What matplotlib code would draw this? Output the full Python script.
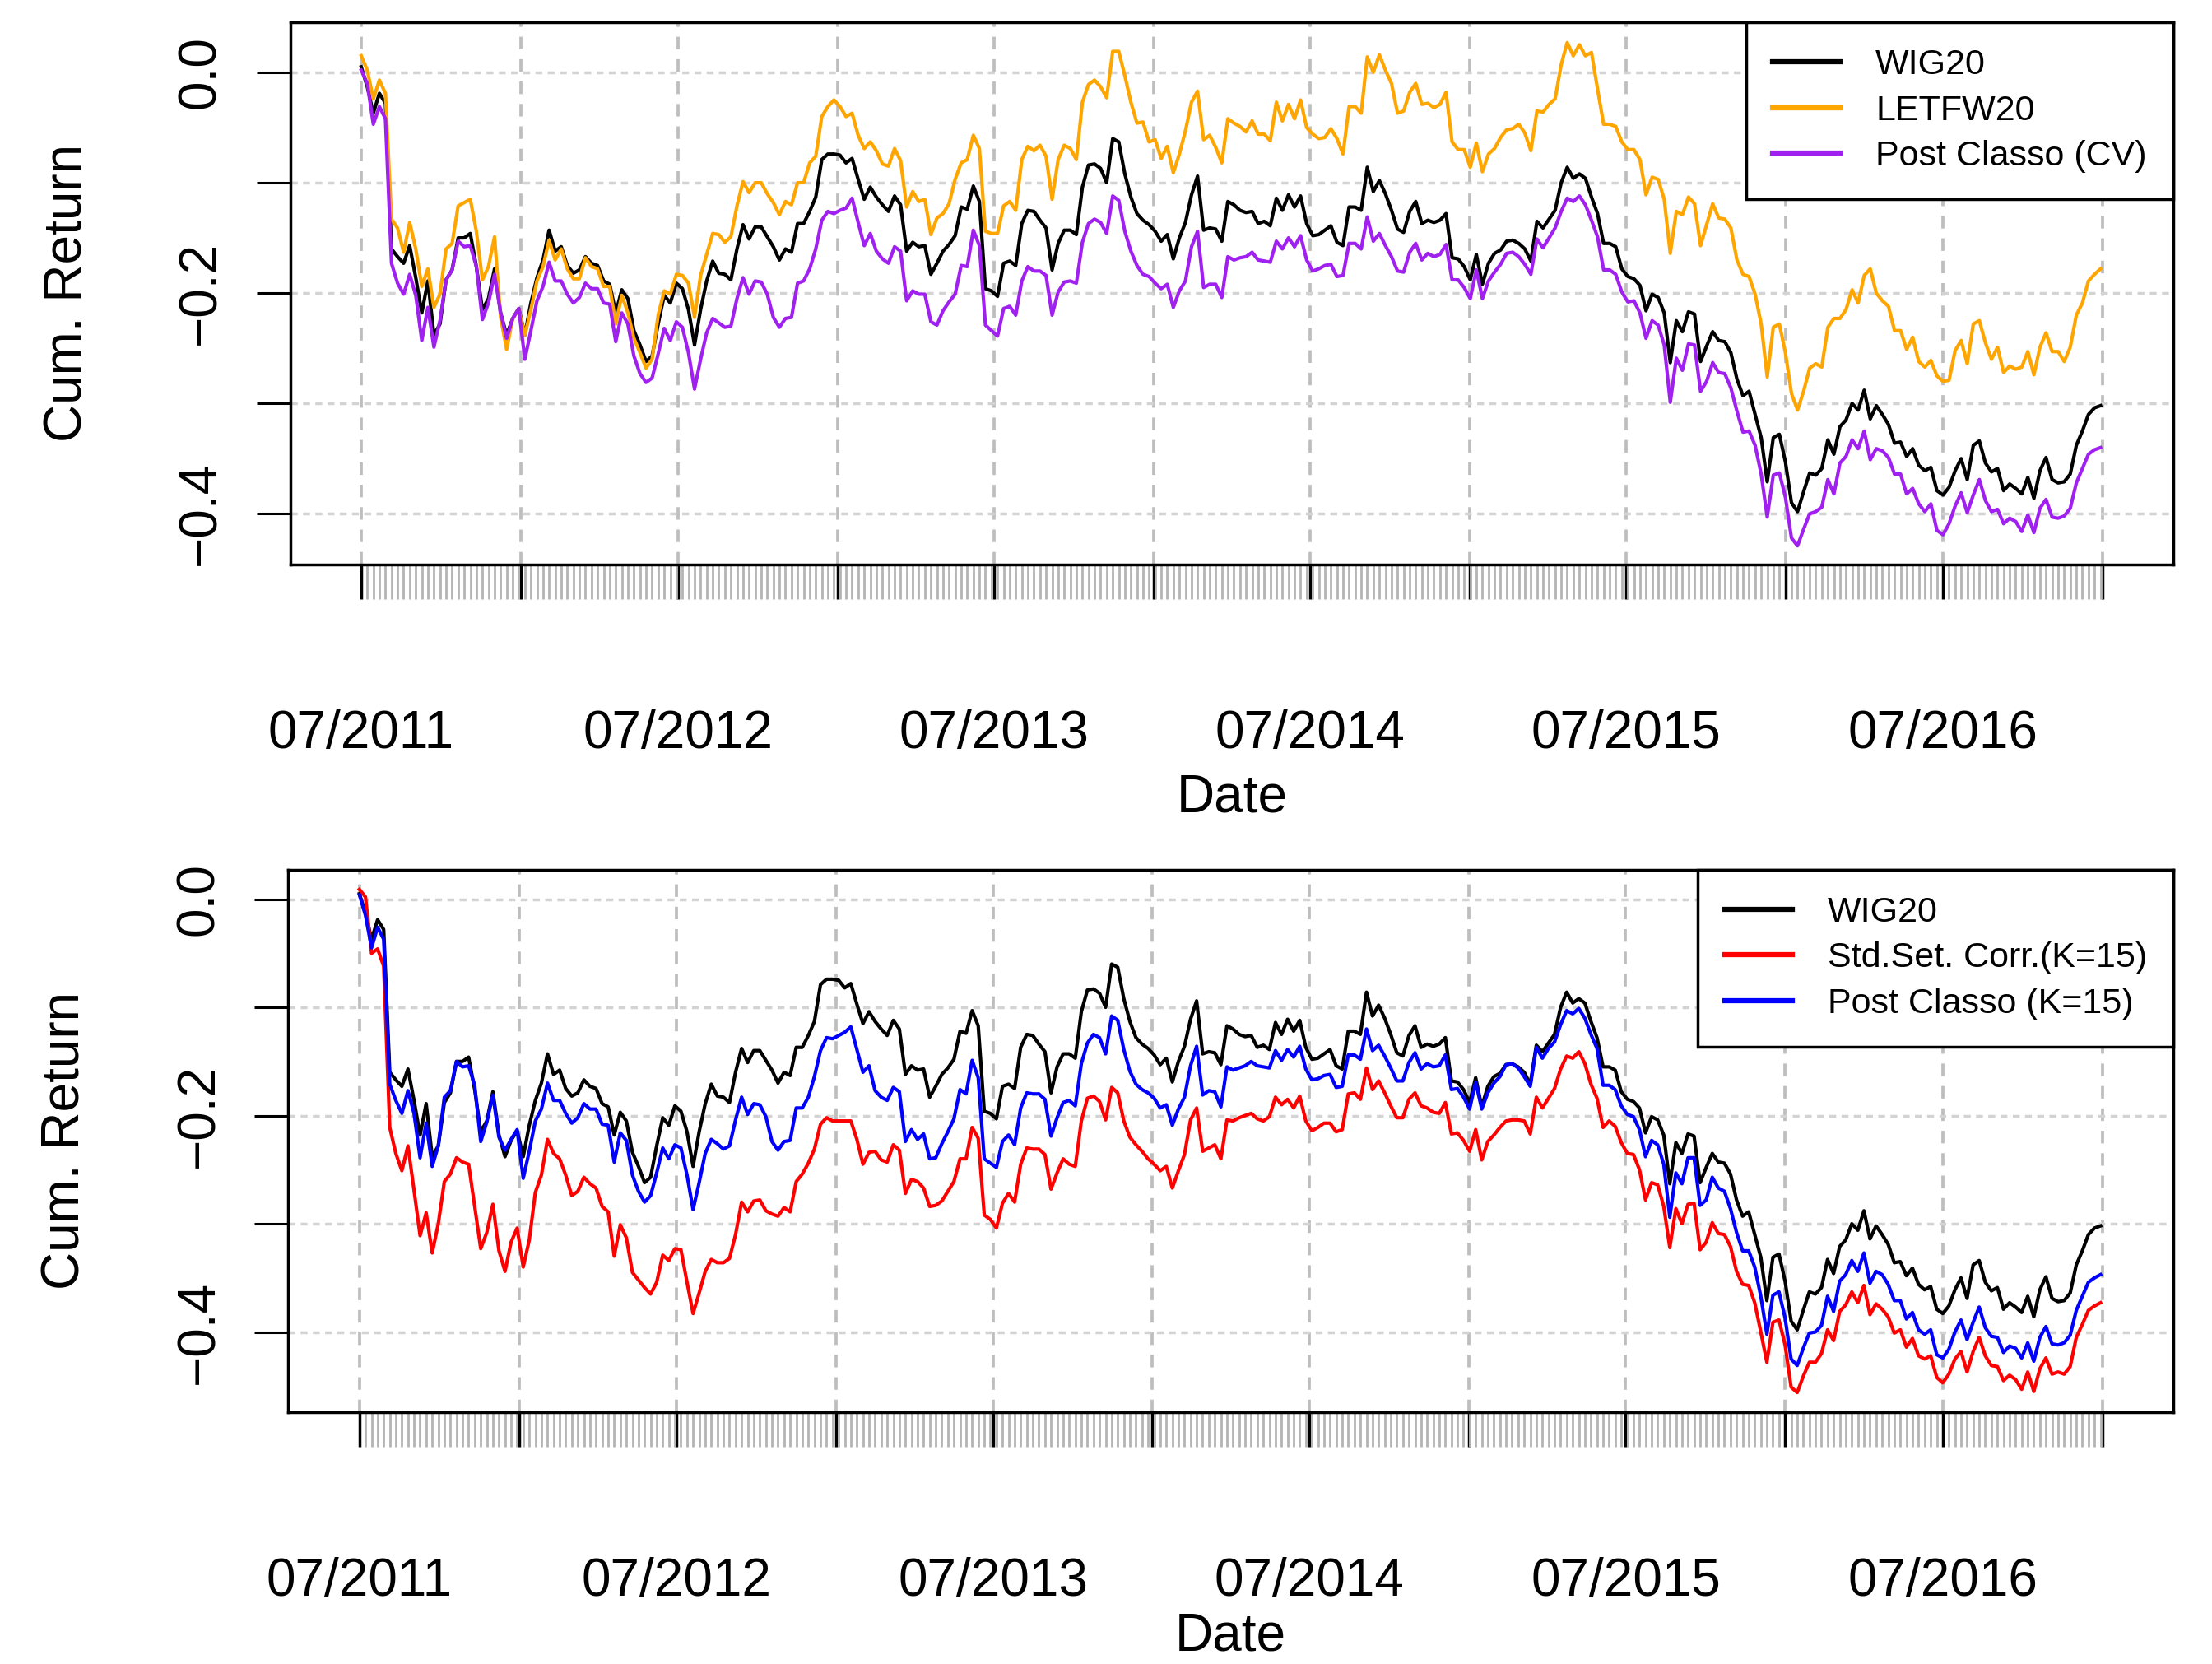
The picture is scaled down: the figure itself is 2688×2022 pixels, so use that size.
import numpy as np
import pandas as pd
import matplotlib
matplotlib.use("Agg")
import matplotlib.pyplot as plt
from matplotlib.lines import Line2D

plt.rcParams['font.family'] = ['Liberation Sans', 'DejaVu Sans']
plt.rcParams['lines.scale_dashes'] = False

# weekly cumulative returns, first week = 07/2011
start = "2011-07-01"

wig20 = [
    0.005, -0.013, -0.037, -0.019, -0.028, -0.160, -0.167, -0.173, -0.157, -0.186,
    -0.218, -0.189, -0.238, -0.228, -0.188, -0.179, -0.150, -0.150, -0.146, -0.176,
    -0.215, -0.205, -0.178, -0.218, -0.238, -0.223, -0.214, -0.238, -0.209, -0.186,
    -0.170, -0.143, -0.162, -0.158, -0.175, -0.182, -0.179, -0.167, -0.173, -0.175,
    -0.189, -0.192, -0.218, -0.197, -0.205, -0.234, -0.247, -0.262, -0.257, -0.228,
    -0.202, -0.209, -0.191, -0.196, -0.215, -0.247, -0.215, -0.189, -0.171, -0.182,
    -0.183, -0.188, -0.160, -0.138, -0.151, -0.140, -0.140, -0.149, -0.158, -0.170,
    -0.160, -0.163, -0.137, -0.137, -0.126, -0.113, -0.079,
    -0.074, -0.074, -0.075, -0.082, -0.078, -0.097, -0.115, -0.104, -0.113, -0.120,
    -0.126, -0.112, -0.120, -0.162, -0.154, -0.158, -0.157, -0.183, -0.173, -0.162,
    -0.156, -0.148, -0.122, -0.124, -0.103, -0.117, -0.196, -0.198, -0.203, -0.173,
    -0.171, -0.175, -0.137, -0.125, -0.126, -0.134, -0.141, -0.179, -0.155, -0.143,
    -0.143, -0.147, -0.104, -0.084, -0.083, -0.087, -0.100, -0.060, -0.063, -0.092,
    -0.113, -0.128, -0.134, -0.138, -0.144, -0.153, -0.147, -0.169, -0.150, -0.136,
    -0.111, -0.094, -0.143, -0.141, -0.142, -0.153, -0.117, -0.120, -0.125, -0.127,
    -0.126, -0.137, -0.135, -0.139, -0.114, -0.125, -0.111, -0.122,
    -0.112, -0.137, -0.148, -0.147, -0.143, -0.139, -0.154, -0.157, -0.122, -0.122,
    -0.125, -0.086, -0.108, -0.098, -0.110, -0.125, -0.142, -0.145, -0.126, -0.117,
    -0.137, -0.134, -0.136, -0.134, -0.128, -0.168, -0.169, -0.176, -0.188, -0.165,
    -0.192, -0.173, -0.164, -0.161, -0.153, -0.152, -0.155, -0.160, -0.171, -0.135,
    -0.141, -0.133, -0.125, -0.100, -0.086, -0.096, -0.092, -0.096, -0.113, -0.128,
    -0.155, -0.155, -0.158, -0.178, -0.185, -0.187, -0.193, -0.216, -0.201, -0.204,
    -0.218, -0.263, -0.225, -0.235, -0.217, -0.219, -0.262, -0.248, -0.235, -0.243,
    -0.244, -0.254, -0.278, -0.293, -0.289, -0.310, -0.331, -0.371, -0.331,
    -0.328, -0.353, -0.390, -0.398, -0.380, -0.363, -0.365, -0.359, -0.333, -0.346,
    -0.321, -0.315, -0.300, -0.306, -0.288, -0.314, -0.302, -0.310, -0.319, -0.336,
    -0.335, -0.348, -0.341, -0.356, -0.361, -0.358, -0.379, -0.383, -0.376, -0.361,
    -0.350, -0.369, -0.338, -0.334, -0.354, -0.362, -0.359, -0.379, -0.373, -0.377,
    -0.382, -0.367, -0.386, -0.361, -0.349, -0.369, -0.372, -0.371, -0.364, -0.338,
    -0.325, -0.310, -0.304, -0.302,
]

letfw20 = [
    0.015, 0.002, -0.024, -0.007, -0.019, -0.133, -0.141, -0.163, -0.136, -0.160,
    -0.194, -0.178, -0.213, -0.201, -0.160, -0.155, -0.121, -0.118, -0.115, -0.144,
    -0.188, -0.176, -0.149, -0.222, -0.251, -0.223, -0.215, -0.238, -0.215, -0.189,
    -0.176, -0.152, -0.170, -0.160, -0.178, -0.187, -0.187, -0.168, -0.176, -0.178,
    -0.194, -0.194, -0.228, -0.202, -0.218, -0.241, -0.254, -0.268, -0.260, -0.220,
    -0.198, -0.201, -0.183, -0.184, -0.191, -0.222, -0.184, -0.165, -0.146, -0.147,
    -0.154, -0.149, -0.121, -0.099, -0.109, -0.100, -0.100, -0.110, -0.118, -0.129,
    -0.117, -0.120, -0.100, -0.100, -0.082, -0.076, -0.040,
    -0.031, -0.025, -0.031, -0.040, -0.037, -0.057, -0.069, -0.063, -0.071, -0.083,
    -0.085, -0.069, -0.080, -0.122, -0.108, -0.117, -0.115, -0.147, -0.132, -0.128,
    -0.119, -0.097, -0.082, -0.079, -0.057, -0.069, -0.144, -0.146, -0.146, -0.121,
    -0.117, -0.125, -0.079, -0.067, -0.071, -0.066, -0.076, -0.115, -0.079, -0.066,
    -0.069, -0.079, -0.027, -0.011, -0.007, -0.013, -0.023, 0.019, 0.019, -0.003,
    -0.027, -0.046, -0.045, -0.063, -0.061, -0.078, -0.067, -0.091, -0.074, -0.053,
    -0.027, -0.017, -0.061, -0.057, -0.068, -0.082, -0.042, -0.046, -0.049, -0.054,
    -0.044, -0.056, -0.056, -0.062, -0.027, -0.044, -0.029, -0.042,
    -0.025, -0.050, -0.056, -0.060, -0.059, -0.051, -0.060, -0.074, -0.031, -0.031,
    -0.037, 0.014, 0.000, 0.016, 0.002, -0.010, -0.037, -0.035, -0.018, -0.010,
    -0.029, -0.028, -0.032, -0.029, -0.018, -0.063, -0.070, -0.070, -0.086, -0.064,
    -0.090, -0.074, -0.069, -0.059, -0.052, -0.051, -0.047, -0.055, -0.071, -0.035,
    -0.036, -0.029, -0.024, 0.007, 0.027, 0.015, 0.025, 0.015, 0.018, -0.015,
    -0.047, -0.047, -0.049, -0.063, -0.070, -0.070, -0.079, -0.111, -0.095, -0.097,
    -0.115, -0.164, -0.126, -0.129, -0.113, -0.119, -0.157, -0.138, -0.119, -0.132,
    -0.133, -0.141, -0.170, -0.183, -0.185, -0.201, -0.228, -0.276, -0.231,
    -0.228, -0.254, -0.291, -0.306, -0.289, -0.268, -0.264, -0.267, -0.231, -0.223,
    -0.223, -0.215, -0.197, -0.209, -0.184, -0.178, -0.200, -0.207, -0.212, -0.234,
    -0.234, -0.251, -0.240, -0.262, -0.267, -0.261, -0.275, -0.280, -0.279, -0.252,
    -0.243, -0.264, -0.228, -0.225, -0.245, -0.260, -0.249, -0.272, -0.266, -0.269,
    -0.267, -0.253, -0.274, -0.249, -0.236, -0.253, -0.253, -0.262, -0.249, -0.220,
    -0.209, -0.189, -0.183, -0.178,
]

post_classo_cv = [
    0.002, -0.010, -0.047, -0.031, -0.042, -0.173, -0.191, -0.201, -0.183, -0.202,
    -0.243, -0.213, -0.249, -0.225, -0.188, -0.179, -0.153, -0.158, -0.157, -0.176,
    -0.224, -0.209, -0.183, -0.218, -0.241, -0.223, -0.214, -0.260, -0.234, -0.207,
    -0.194, -0.172, -0.189, -0.189, -0.201, -0.209, -0.204, -0.191, -0.196, -0.196,
    -0.209, -0.210, -0.244, -0.218, -0.228, -0.257, -0.273, -0.281, -0.277, -0.255,
    -0.232, -0.243, -0.226, -0.231, -0.254, -0.287, -0.260, -0.236, -0.223, -0.227,
    -0.231, -0.230, -0.205, -0.186, -0.201, -0.189, -0.190, -0.201, -0.222, -0.231,
    -0.223, -0.222, -0.191, -0.189, -0.178, -0.160, -0.134,
    -0.126, -0.128, -0.125, -0.123, -0.114, -0.136, -0.157, -0.146, -0.162, -0.169,
    -0.173, -0.158, -0.162, -0.207, -0.198, -0.201, -0.201, -0.226, -0.229, -0.216,
    -0.208, -0.201, -0.175, -0.176, -0.143, -0.157, -0.229, -0.234, -0.239, -0.214,
    -0.212, -0.220, -0.189, -0.176, -0.180, -0.180, -0.184, -0.220, -0.199, -0.190,
    -0.189, -0.191, -0.154, -0.137, -0.133, -0.136, -0.146, -0.112, -0.116, -0.144,
    -0.162, -0.175, -0.183, -0.185, -0.191, -0.196, -0.192, -0.213, -0.198, -0.189,
    -0.158, -0.144, -0.195, -0.192, -0.192, -0.204, -0.167, -0.170, -0.168, -0.167,
    -0.163, -0.170, -0.171, -0.172, -0.153, -0.160, -0.150, -0.158,
    -0.148, -0.170, -0.180, -0.178, -0.175, -0.174, -0.185, -0.184, -0.155, -0.155,
    -0.160, -0.131, -0.153, -0.146, -0.157, -0.167, -0.180, -0.181, -0.163, -0.155,
    -0.170, -0.164, -0.167, -0.165, -0.156, -0.188, -0.188, -0.195, -0.205, -0.179,
    -0.205, -0.189, -0.181, -0.174, -0.164, -0.163, -0.167, -0.174, -0.183, -0.151,
    -0.159, -0.150, -0.141, -0.126, -0.114, -0.117, -0.112, -0.120, -0.134, -0.149,
    -0.179, -0.179, -0.183, -0.199, -0.208, -0.207, -0.218, -0.241, -0.225, -0.229,
    -0.247, -0.299, -0.259, -0.270, -0.246, -0.247, -0.289, -0.280, -0.263, -0.272,
    -0.273, -0.286, -0.307, -0.326, -0.325, -0.338, -0.364, -0.403, -0.365,
    -0.363, -0.385, -0.422, -0.429, -0.414, -0.400, -0.398, -0.394, -0.369, -0.382,
    -0.354, -0.348, -0.333, -0.341, -0.325, -0.351, -0.341, -0.343, -0.349, -0.364,
    -0.364, -0.382, -0.377, -0.391, -0.398, -0.391, -0.415, -0.419, -0.409, -0.393,
    -0.381, -0.399, -0.383, -0.369, -0.388, -0.398, -0.396, -0.409, -0.404, -0.407,
    -0.416, -0.401, -0.417, -0.395, -0.387, -0.403, -0.404, -0.402, -0.395, -0.372,
    -0.359, -0.346, -0.342, -0.340,
]

std_set_corr = [
    0.009, 0.002, -0.050, -0.046, -0.062, -0.211, -0.235, -0.251, -0.228, -0.269,
    -0.311, -0.290, -0.327, -0.300, -0.261, -0.254, -0.239, -0.243, -0.245, -0.284,
    -0.323, -0.308, -0.282, -0.325, -0.344, -0.317, -0.304, -0.340, -0.315, -0.271,
    -0.255, -0.222, -0.235, -0.240, -0.255, -0.274, -0.270, -0.257, -0.263, -0.267,
    -0.284, -0.289, -0.330, -0.301, -0.313, -0.345, -0.352, -0.359, -0.365, -0.354,
    -0.329, -0.334, -0.323, -0.324, -0.354, -0.383, -0.364, -0.344, -0.333, -0.336,
    -0.336, -0.332, -0.310, -0.280, -0.289, -0.279, -0.278, -0.288, -0.291, -0.293,
    -0.285, -0.289, -0.261, -0.254, -0.244, -0.231, -0.208,
    -0.202, -0.205, -0.205, -0.205, -0.205, -0.222, -0.245, -0.234, -0.233, -0.241,
    -0.243, -0.227, -0.232, -0.272, -0.259, -0.261, -0.267, -0.284, -0.283, -0.279,
    -0.270, -0.261, -0.240, -0.240, -0.211, -0.221, -0.292, -0.296, -0.304, -0.281,
    -0.272, -0.280, -0.245, -0.230, -0.231, -0.231, -0.236, -0.268, -0.253, -0.240,
    -0.245, -0.247, -0.205, -0.184, -0.182, -0.187, -0.204, -0.174, -0.179, -0.205,
    -0.220, -0.227, -0.233, -0.240, -0.245, -0.251, -0.247, -0.267, -0.251, -0.236,
    -0.204, -0.193, -0.233, -0.230, -0.227, -0.240, -0.204, -0.205, -0.202, -0.200,
    -0.198, -0.203, -0.205, -0.201, -0.183, -0.190, -0.185, -0.193,
    -0.182, -0.205, -0.214, -0.211, -0.207, -0.207, -0.215, -0.213, -0.180, -0.179,
    -0.185, -0.156, -0.176, -0.168, -0.179, -0.191, -0.202, -0.202, -0.185, -0.179,
    -0.191, -0.193, -0.197, -0.198, -0.188, -0.217, -0.216, -0.223, -0.233, -0.213,
    -0.241, -0.224, -0.218, -0.211, -0.205, -0.204, -0.204, -0.205, -0.217, -0.183,
    -0.193, -0.184, -0.175, -0.157, -0.145, -0.147, -0.141, -0.152, -0.171, -0.184,
    -0.211, -0.205, -0.210, -0.225, -0.235, -0.236, -0.250, -0.278, -0.262, -0.264,
    -0.284, -0.322, -0.286, -0.300, -0.282, -0.281, -0.324, -0.317, -0.299, -0.309,
    -0.310, -0.321, -0.344, -0.356, -0.357, -0.373, -0.400, -0.428, -0.391,
    -0.389, -0.412, -0.451, -0.456, -0.441, -0.428, -0.428, -0.420, -0.398, -0.408,
    -0.381, -0.375, -0.363, -0.373, -0.357, -0.384, -0.374, -0.379, -0.386, -0.401,
    -0.398, -0.414, -0.406, -0.422, -0.425, -0.422, -0.442, -0.447, -0.439, -0.425,
    -0.418, -0.437, -0.418, -0.405, -0.422, -0.431, -0.432, -0.445, -0.440, -0.444,
    -0.453, -0.437, -0.455, -0.434, -0.424, -0.439, -0.437, -0.439, -0.432, -0.405,
    -0.393, -0.380, -0.376, -0.373,
]

post_classo_k15 = [
    0.004, -0.015, -0.045, -0.026, -0.037, -0.171, -0.186, -0.198, -0.177, -0.198,
    -0.239, -0.207, -0.247, -0.228, -0.183, -0.177, -0.150, -0.155, -0.154, -0.172,
    -0.224, -0.206, -0.181, -0.220, -0.232, -0.222, -0.213, -0.258, -0.233, -0.205,
    -0.194, -0.170, -0.186, -0.186, -0.198, -0.207, -0.202, -0.189, -0.194, -0.194,
    -0.208, -0.209, -0.243, -0.216, -0.223, -0.255, -0.270, -0.280, -0.274, -0.253,
    -0.230, -0.240, -0.227, -0.230, -0.255, -0.287, -0.262, -0.235, -0.222, -0.226,
    -0.231, -0.228, -0.204, -0.183, -0.199, -0.189, -0.190, -0.201, -0.224, -0.232,
    -0.224, -0.223, -0.193, -0.193, -0.183, -0.164, -0.140,
    -0.128, -0.129, -0.126, -0.123, -0.118, -0.139, -0.160, -0.154, -0.177, -0.183,
    -0.186, -0.174, -0.178, -0.224, -0.213, -0.222, -0.217, -0.240, -0.239, -0.226,
    -0.215, -0.203, -0.176, -0.180, -0.149, -0.165, -0.240, -0.244, -0.248, -0.224,
    -0.218, -0.227, -0.193, -0.179, -0.180, -0.180, -0.185, -0.219, -0.202, -0.188,
    -0.186, -0.191, -0.152, -0.133, -0.125, -0.128, -0.143, -0.108, -0.112, -0.139,
    -0.159, -0.171, -0.176, -0.179, -0.184, -0.193, -0.190, -0.209, -0.194, -0.183,
    -0.154, -0.136, -0.181, -0.177, -0.178, -0.192, -0.155, -0.158, -0.156, -0.154,
    -0.150, -0.154, -0.155, -0.156, -0.140, -0.149, -0.139, -0.146,
    -0.136, -0.157, -0.167, -0.166, -0.163, -0.162, -0.174, -0.173, -0.144, -0.144,
    -0.148, -0.120, -0.140, -0.135, -0.145, -0.156, -0.168, -0.168, -0.151, -0.142,
    -0.157, -0.152, -0.155, -0.154, -0.144, -0.176, -0.175, -0.183, -0.194, -0.169,
    -0.194, -0.179, -0.170, -0.164, -0.153, -0.152, -0.156, -0.164, -0.173, -0.137,
    -0.147, -0.138, -0.132, -0.116, -0.103, -0.106, -0.101, -0.110, -0.125, -0.138,
    -0.172, -0.172, -0.176, -0.191, -0.199, -0.201, -0.213, -0.238, -0.223, -0.227,
    -0.245, -0.294, -0.253, -0.263, -0.239, -0.239, -0.283, -0.278, -0.257, -0.267,
    -0.270, -0.286, -0.308, -0.325, -0.325, -0.340, -0.367, -0.402, -0.366,
    -0.363, -0.387, -0.425, -0.431, -0.415, -0.401, -0.400, -0.394, -0.367, -0.381,
    -0.353, -0.347, -0.334, -0.344, -0.327, -0.355, -0.344, -0.347, -0.356, -0.371,
    -0.371, -0.388, -0.382, -0.398, -0.402, -0.398, -0.421, -0.424, -0.416, -0.400,
    -0.389, -0.407, -0.391, -0.377, -0.396, -0.404, -0.405, -0.419, -0.413, -0.415,
    -0.424, -0.410, -0.427, -0.405, -0.395, -0.411, -0.412, -0.410, -0.403, -0.380,
    -0.367, -0.354, -0.350, -0.347,
]

dates = pd.date_range(start, periods=len(wig20), freq="7D")
half_years = pd.date_range("2011-07-01", "2017-01-01", freq="6MS")
half_labels = [d.strftime("%m/%Y") if d.month == 7 else "" for d in half_years]
y_ticks = [0.0, -0.1, -0.2, -0.3, -0.4]
y_labels = ["0.0", "", "\u22120.2", "", "\u22120.4"]

top_series = [(wig20, "black", "WIG20"),
              (letfw20, "#FFA500", "LETFW20"),
              (post_classo_cv, "#A020F0", "Post Classo (CV)")]
bottom_series = [(wig20, "black", "WIG20"),
                 (std_set_corr, "#FF0000", "Std.Set. Corr.(K=15)"),
                 (post_classo_k15, "#0000FF", "Post Classo (K=15)")]

fig = plt.figure(figsize=(26.88, 20.22), dpi=100)
ax1 = fig.add_axes([0.1312, 0.66073, 0.8513, 0.32602])
ax2 = fig.add_axes([0.13036, 0.15143, 0.85216, 0.32597])


def draw_panel(ax, series, ylim, xlabel_y):
    for d in half_years:
        ax.axvline(d, color="#bebebe", lw=2.7, dashes=(11, 8.6), zorder=0.5)
    for y in y_ticks:
        ax.axhline(y, color="#d3d3d3", lw=2.5, dashes=(6, 4.7), zorder=0.5)
    for vals, col, lab in series:
        ax.plot(dates, vals, color=col, lw=3.0, zorder=2)

    ax.set_xlim(pd.Timestamp(start) - pd.Timedelta(days=82),
                pd.Timestamp("2017-01-01") + pd.Timedelta(days=82))
    ax.set_ylim(*ylim)

    ax.set_xticks(half_years)
    ax.set_xticklabels(half_labels)
    ax.set_xticks(dates, minor=True)
    ax.tick_params(axis="x", which="major", length=30, width=2.5, pad=97,
                   labelsize=46, color="black")
    ax.tick_params(axis="x", which="minor", length=30, width=2.0, color="#b4b4b4")

    ax.set_yticks(y_ticks)
    ax.set_yticklabels(y_labels)
    ax.tick_params(axis="y", length=29.5, width=2.2, pad=27, labelsize=46)
    for t in ax.get_yticklabels():
        t.set_rotation(90)
        t.set_va("center")

    for sp in ax.spines.values():
        sp.set_linewidth(2.5)

    ax.set_xlabel("Date", fontsize=46)
    ax.xaxis.set_label_coords(0.5, xlabel_y)
    ax.set_ylabel("Cum. Return", fontsize=46)
    ax.yaxis.set_label_coords(-0.105, 0.5)

    handles = [Line2D([], [], color=c, lw=4.5) for _, c, _ in series]
    leg = ax.legend(handles, [l for _, _, l in series], loc="upper right",
                    bbox_to_anchor=(1, 1), borderaxespad=0, fontsize=31,
                    fancybox=False, edgecolor="black", framealpha=1,
                    handlelength=1.9, handletextpad=1.0, borderpad=0.75,
                    labelspacing=0.36)
    leg.get_frame().set_linewidth(2.5)


draw_panel(ax1, top_series, (-0.446, 0.0456), -0.385)
draw_panel(ax2, bottom_series, (-0.474, 0.0273), -0.368)

fig.savefig("out.png", dpi=100)
